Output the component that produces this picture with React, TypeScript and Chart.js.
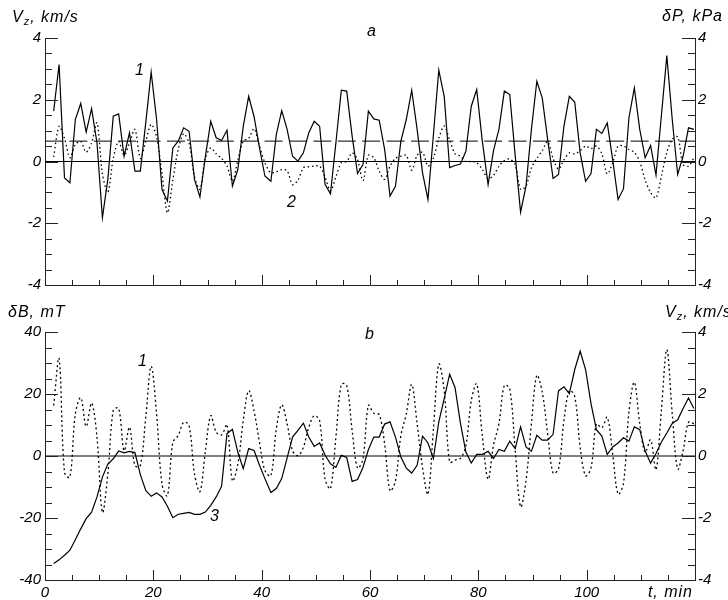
import React, { useEffect, useRef } from "react";
import { Chart, registerables } from "chart.js";
Chart.register(...registerables);

// sample times, minutes
const TIME = [
  1.6, 2.6, 3.6, 4.6, 5.6, 6.6, 7.6, 8.6, 9.6, 10.6,
  11.6, 12.6, 13.6, 14.6, 15.6, 16.6, 17.6, 18.6, 19.6, 20.6,
  21.6, 22.6, 23.6, 24.6, 25.6, 26.6, 27.6, 28.6, 29.6, 30.6,
  31.6, 32.6, 33.6, 34.6, 35.6, 36.6, 37.6, 38.6, 39.6, 40.6,
  41.7, 42.7, 43.7, 44.7, 45.7, 46.7, 47.7, 48.7, 49.7, 50.7,
  51.7, 52.7, 53.7, 54.7, 55.7, 56.7, 57.7, 58.7, 59.7, 60.7,
  61.7, 62.7, 63.7, 64.7, 65.7, 66.7, 67.7, 68.7, 69.7, 70.7,
  71.7, 72.7, 73.7, 74.7, 75.7, 76.7, 77.7, 78.7, 79.7, 80.7,
  81.8, 82.8, 83.8, 84.8, 85.8, 86.8, 87.8, 88.8, 89.8, 90.8,
  91.8, 92.8, 93.8, 94.8, 95.8, 96.8, 97.8, 98.8, 99.8, 100.8,
  101.8, 102.8, 103.8, 104.8, 105.8, 106.8, 107.8, 108.8, 109.8, 110.8,
  111.8, 112.8, 113.8, 114.8, 115.8, 116.8, 117.8, 118.8, 119.8,
];

// curve 1: Vz, km/s
const VZ = [
  1.63, 3.14, -0.53, -0.69, 1.36, 1.88, 0.95, 1.71, 0.6, -1.82,
  -0.58, 1.47, 1.54, 0.17, 0.93, -0.31, -0.31, 1.25, 2.89, 1.36,
  -0.91, -1.28, 0.44, 0.66, 1.09, 0.98, -0.58, -1.15, 0.15, 1.3,
  0.77, 0.68, 1.01, -0.8, -0.26, 1.14, 2.11, 1.45, 0.44, -0.47,
  -0.64, 0.87, 1.65, 1.04, 0.17, 0.01, 0.28, 0.93, 1.3, 1.14,
  -0.74, -1.05, 0.6, 2.31, 2.28, 0.82, -0.39, -0.1, 1.63, 1.38,
  1.34, 0.39, -1.12, -0.8, 0.66, 1.36, 2.31, 1.04, -0.37, -1.23,
  0.85, 2.96, 2.11, -0.2, -0.13, -0.08, 0.33, 1.79, 2.33, 0.71,
  -0.75, 0.35, 1.04, 2.28, 2.17, 0.2, -1.64, -0.8, 1.04, 2.6,
  2.06, 0.71, -0.55, -0.42, 1.14, 2.11, 1.92, 0.28, -0.64, -0.39,
  1.04, 0.91, 1.25, 0.06, -1.23, -0.88, 1.41, 2.38, 1.04, 0.12,
  0.52, -0.44, 1.5, 3.43, 1.36, -0.42, 0.17, 1.09, 1.04,
];

// curve 2: dP, kPa
const DP = [
  0.15, 1.14, 0.75, 0.12, 0.55, 0.65, 0.3, 0.6, 1.25, -0.4,
  -1.0, 0.1, 0.65, 0.2, 0.6, 1.04, 0.1, 0.65, 1.2, 0.8,
  -0.4, -1.66, -0.6, 0.4, 0.9, 0.6, -0.5, -0.9, 0.1, 0.44,
  0.25, 0.1, -0.15, -0.64, 0.04, 0.66, 0.75, 1.06, 0.5, -0.04,
  -0.37, -0.33, -0.26, -0.3, -0.75, -0.6, -0.2, -0.17, -0.15, -0.15,
  -0.5, -0.95, -0.5, -0.04, 0.0, 0.28, 0.06, -0.62, 0.2, 0.12,
  -0.31, -0.58, -0.15, 0.1, 0.17, 0.2, -0.28, 0.2, 0.3, -0.15,
  0.1, 0.75, 1.15, 0.7, 0.25, 0.17, 0.0, 0.0, -0.04, -0.25,
  -0.55, -0.45, -0.15, 0.03, 0.08, -0.1, -0.9, -0.8, -0.2, 0.1,
  0.35, 0.65, 0.1, -0.25, 0.05, 0.28, 0.25, 0.35, 0.5, 0.42,
  0.5, 0.25, -0.4, -0.04, 0.5, 0.5, 0.39, 0.3, 0.0, -0.6,
  -1.0, -1.18, -0.47, 0.3, 0.72, 0.8, -0.1, -0.15, 0.12,
];

// curve 3: dB, mT
const DB = [
  -34.7, -33.5, -32.0, -30.4, -27.0, -23.5, -20.2, -18.1, -13.2, -6.8,
  -2.6, -0.9, 1.6, 1.0, 1.5, 1.1, -6.0, -11.1, -13.0, -11.9,
  -13.2, -16.2, -19.9, -18.8, -18.5, -18.2, -18.8, -18.8, -18.1, -15.9,
  -13.2, -9.8, 7.2, 8.6, 1.2, -4.1, 2.4, 1.8, -3.0, -7.3,
  -11.8, -10.5, -7.3, -0.6, 6.1, 8.3, 10.6, 6.1, 3.1, 4.2,
  0.3, -2.5, -3.7, 0.2, -0.5, -8.2, -7.6, -3.7, 2.0, 6.1,
  6.1, 10.3, 11.0, 6.1, -0.3, -3.9, -5.5, -3.0, 6.4, 4.2,
  -0.8, 11.0, 18.5, 26.4, 22.1, 10.5, 1.3, -2.3, 0.5, 0.5,
  1.5, -0.8, 2.1, 1.5, 4.8, 2.4, 9.4, 2.9, 1.5, 6.7,
  5.1, 5.1, 7.0, 21.0, 22.3, 20.1, 27.9, 33.8, 27.9, 16.9,
  8.5, 6.4, 0.5, 2.9, 4.2, 5.9, 4.8, 9.4, 8.5, 1.6,
  -2.3, 0.8, 4.5, 7.4, 10.5, 11.7, 15.3, 18.7, 15.3,
];

const DASH_LEVEL = 0.66; // dashed reference level, panel a
const T_RANGE = [0, 120];
const T_STEP = 20;
const T_MINOR = 5;
const V_RANGE = [-4, 4];
const V_STEP = 2;
const V_MINOR = 0.5;
const B_RANGE = [-40, 40];
const B_STEP = 20;
const B_MINOR = 5;

const FONT = '"Liberation Sans", Arial, sans-serif';
const INK = "#000";
const AXIS = "#222";

const pts = (ys: number[]) => TIME.map((t, i) => ({ x: t, y: ys[i] }));
const level = (v: number) => [
  { x: T_RANGE[0], y: v },
  { x: T_RANGE[1], y: v },
];

type TickSpec = { id: string; side: "left" | "right" | "bottom"; major: number; minor: number };
type TextSpec = { s: string; x: number; y: number; align?: CanvasTextAlign; sub?: string };

const decor = {
  id: "decor",
  afterDraw(chart: any, _args: any, opts: any) {
    const ctx: any = chart.ctx;
    const a = chart.chartArea;
    ctx.save();
    ctx.strokeStyle = AXIS;
    ctx.lineWidth = 1;
    (opts.ticks as TickSpec[]).forEach((t) => {
      const s = chart.scales[t.id];
      const n = Math.round((s.max - s.min) / t.minor);
      for (let i = 0; i <= n; i++) {
        const v = s.min + i * t.minor;
        const isMajor = Math.abs(v / t.major - Math.round(v / t.major)) < 1e-6;
        const p = Math.round(s.getPixelForValue(v)) + 0.5;
        ctx.beginPath();
        if (t.side === "left") {
          const len = isMajor ? 13 : 7;
          ctx.moveTo(a.left, p);
          ctx.lineTo(a.left + len, p);
        } else if (t.side === "right") {
          const len = isMajor ? 13 : 7;
          ctx.moveTo(a.right, p);
          ctx.lineTo(a.right - len, p);
        } else {
          const len = isMajor ? 10 : 5;
          ctx.moveTo(p, a.bottom);
          ctx.lineTo(p, a.bottom - len);
        }
        ctx.stroke();
      }
    });
    ctx.fillStyle = INK;
    ctx.textBaseline = "middle";
    ctx.letterSpacing = "1px";
    (opts.texts as TextSpec[]).forEach((t) => {
      ctx.font = `italic 16px ${FONT}`;
      if (t.sub) {
        const head = t.s.slice(0, 1);
        const rest = t.s.slice(1);
        ctx.textAlign = "left";
        let x = t.x;
        ctx.fillText(head, x, t.y);
        x += ctx.measureText(head).width;
        ctx.font = `italic 11px ${FONT}`;
        ctx.fillText(t.sub, x, t.y + 4);
        x += ctx.measureText(t.sub).width;
        ctx.font = `italic 16px ${FONT}`;
        ctx.fillText(rest, x, t.y);
      } else {
        ctx.textAlign = t.align || "left";
        ctx.fillText(t.s, t.x, t.y);
      }
    });
    ctx.restore();
  },
};

const tickFont = { family: FONT, size: 15, style: "italic" as const };

function yScale(pos: "left" | "right", range: number[], step: number, width: number) {
  return {
    type: "linear" as const,
    position: pos,
    min: range[0],
    max: range[1],
    ticks: { stepSize: step, font: tickFont, color: INK, padding: pos === "left" ? 4 : 3 },
    grid: { display: false, drawTicks: false },
    border: { display: true, color: AXIS, width: 1 },
    afterFit: (s: any) => {
      s.width = width;
    },
  };
}

function topConfig(): any {
  return {
    type: "line",
    data: {
      datasets: [
        { data: level(0), yAxisID: "y", borderColor: INK, borderWidth: 1, pointRadius: 0 },
        {
          data: level(DASH_LEVEL),
          yAxisID: "y2",
          borderColor: INK,
          borderWidth: 1,
          borderDash: [18, 6.4],
          pointRadius: 0,
        },
        {
          data: pts(DP),
          yAxisID: "y2",
          borderColor: INK,
          borderWidth: 1.3,
          borderDash: [1.5, 2.8],
          pointRadius: 0,
          tension: 0.3,
        },
        { data: pts(VZ), yAxisID: "y", borderColor: INK, borderWidth: 1.2, pointRadius: 0, tension: 0 },
      ],
    },
    options: {
      responsive: false,
      animation: false,
      layout: { padding: { top: 38, left: 0, right: 0, bottom: 0 } },
      scales: {
        x: {
          type: "linear",
          min: T_RANGE[0],
          max: T_RANGE[1],
          ticks: { display: false, stepSize: T_STEP },
          grid: { display: false, drawTicks: false },
          border: { display: true, color: AXIS, width: 1 },
          afterFit: (s: any) => {
            s.height = 15;
          },
        },
        y: yScale("left", V_RANGE, V_STEP, 45),
        y2: yScale("right", V_RANGE, V_STEP, 33),
      },
      plugins: {
        legend: { display: false },
        tooltip: { enabled: false },
        decor: {
          ticks: [
            { id: "y", side: "left", major: V_STEP, minor: V_MINOR },
            { id: "y2", side: "right", major: V_STEP, minor: V_MINOR },
            { id: "x", side: "bottom", major: T_STEP, minor: T_MINOR },
          ],
          texts: [
            { s: "V, km/s", sub: "z", x: 12, y: 18 },
            { s: "δP, kPa", x: 723, y: 17, align: "right" },
            { s: "a", x: 372, y: 32, align: "center" },
            { s: "1", x: 140, y: 71, align: "center" },
            { s: "2", x: 292, y: 203, align: "center" },
          ],
        },
      },
    },
    plugins: [decor],
  };
}

function bottomConfig(): any {
  return {
    type: "line",
    data: {
      datasets: [
        { data: level(0), yAxisID: "y", borderColor: INK, borderWidth: 1, pointRadius: 0 },
        {
          data: pts(VZ),
          yAxisID: "y2",
          borderColor: INK,
          borderWidth: 1.3,
          borderDash: [2, 2.8],
          pointRadius: 0,
          tension: 0.35,
        },
        { data: pts(DB), yAxisID: "y", borderColor: INK, borderWidth: 1.2, pointRadius: 0, tension: 0 },
      ],
    },
    options: {
      responsive: false,
      animation: false,
      layout: { padding: { top: 42, left: 0, right: 0, bottom: 0 } },
      scales: {
        x: {
          type: "linear",
          min: T_RANGE[0],
          max: T_RANGE[1],
          ticks: {
            stepSize: T_STEP,
            font: tickFont,
            color: INK,
            padding: 4,
            maxRotation: 0,
            autoSkip: false,
            callback: (v: number) => (v === T_RANGE[1] ? "" : String(v)),
          },
          grid: { display: false, drawTicks: false },
          border: { display: true, color: AXIS, width: 1 },
          afterFit: (s: any) => {
            s.height = 20;
          },
        },
        y: yScale("left", B_RANGE, B_STEP, 45),
        y2: yScale("right", V_RANGE, V_STEP, 33),
      },
      plugins: {
        legend: { display: false },
        tooltip: { enabled: false },
        decor: {
          ticks: [
            { id: "y", side: "left", major: B_STEP, minor: B_MINOR },
            { id: "y2", side: "right", major: V_STEP, minor: V_MINOR },
            { id: "x", side: "bottom", major: T_STEP, minor: T_MINOR },
          ],
          texts: [
            { s: "δB, mT", x: 8, y: 23 },
            { s: "V, km/s", sub: "z", x: 665, y: 23 },
            { s: "b", x: 370, y: 45, align: "center" },
            { s: "1", x: 143, y: 72, align: "center" },
            { s: "3", x: 215, y: 227, align: "center" },
            { s: "t, min", x: 693, y: 303, align: "right" },
          ],
        },
      },
    },
    plugins: [decor],
  };
}

export default function App() {
  const topRef = useRef<HTMLCanvasElement>(null);
  const botRef = useRef<HTMLCanvasElement>(null);
  useEffect(() => {
    const c1 = new Chart(topRef.current as HTMLCanvasElement, topConfig());
    const c2 = new Chart(botRef.current as HTMLCanvasElement, bottomConfig());
    return () => {
      c1.destroy();
      c2.destroy();
    };
  }, []);
  return (
    <div style={{ position: "absolute", left: 0, top: 0, width: 728, height: 600, background: "#fff" }}>
      <canvas
        ref={topRef}
        width={728}
        height={300}
        style={{ position: "absolute", left: 0, top: 0, width: 728, height: 300 }}
      />
      <canvas
        ref={botRef}
        width={728}
        height={310}
        style={{ position: "absolute", left: 0, top: 290, width: 728, height: 310 }}
      />
    </div>
  );
}
